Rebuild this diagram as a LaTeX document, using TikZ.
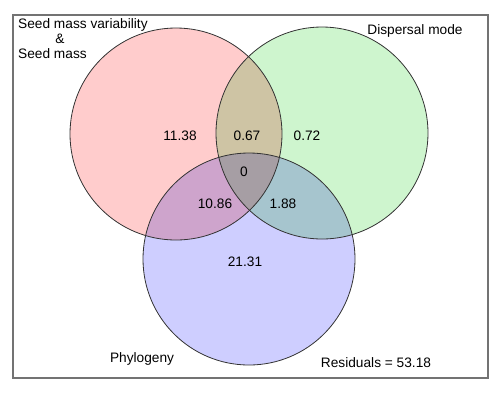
\documentclass[tikz,border=0pt]{standalone}
\usepackage{fontspec}
\setmainfont{Liberation Sans}
\usepackage{tikz}
\usetikzlibrary{positioning}
\definecolor{seedfill}{RGB}{255,204,204}
\definecolor{dispfill}{RGB}{206,245,206}
\definecolor{phylofill}{RGB}{206,206,255}
\tikzset{set circle/.style = {draw=black!80, line width=0.8pt}}

\begin{document}
\begin{tikzpicture}[x=1pt, y=-1pt,
        value/.style={anchor=base, inner sep=0pt, font=\fontsize{13.7}{16}\selectfont},
        set label/.style={value, anchor=base west}]
    \useasboundingbox (0,0) rectangle (500,392);
    \draw[black!55, line width=1.3pt] (13,15) rectangle (488,378);
    \coordinate (seed) at (176,134);
    \coordinate (disp) at (322,133);
    \coordinate (phylo) at (249,259);
    \begin{scope}[blend group=multiply]
        \fill[seedfill] (seed) circle [radius=106pt];
        \fill[dispfill] (disp) circle [radius=106pt];
        \fill[phylofill] (phylo) circle [radius=106pt];
    \end{scope}
    \draw[set circle] (seed) circle [radius=106pt];
    \draw[set circle] (disp) circle [radius=106pt];
    \draw[set circle] (phylo) circle [radius=106pt];
    % set names
    \node[set label] (seedvar) at (18,28) {Seed mass variability};
    \node[value] (amp) at (60,43) {\&};
    \node[set label] (seedmass) at (18,58) {Seed mass};
    \node[value] (displabel) at (415,34) {Dispersal mode};
    \node[value] (phylolabel) at (142,362) {Phylogeny};
    \node[value] (resid) at (376,367) {Residuals = 53.18};
    % fractions
    \node[value] (a) at (180,140) {11.38};
    \node[value] (ab) at (247,140) {0.67};
    \node[value] (b) at (307,140) {0.72};
    \node[value] (abc) at (244,176) {0};
    \node[value] (ac) at (215,208) {10.86};
    \node[value] (bc) at (283,208) {1.88};
    \node[value] (c) at (245,266) {21.31};
\end{tikzpicture}
\end{document}
